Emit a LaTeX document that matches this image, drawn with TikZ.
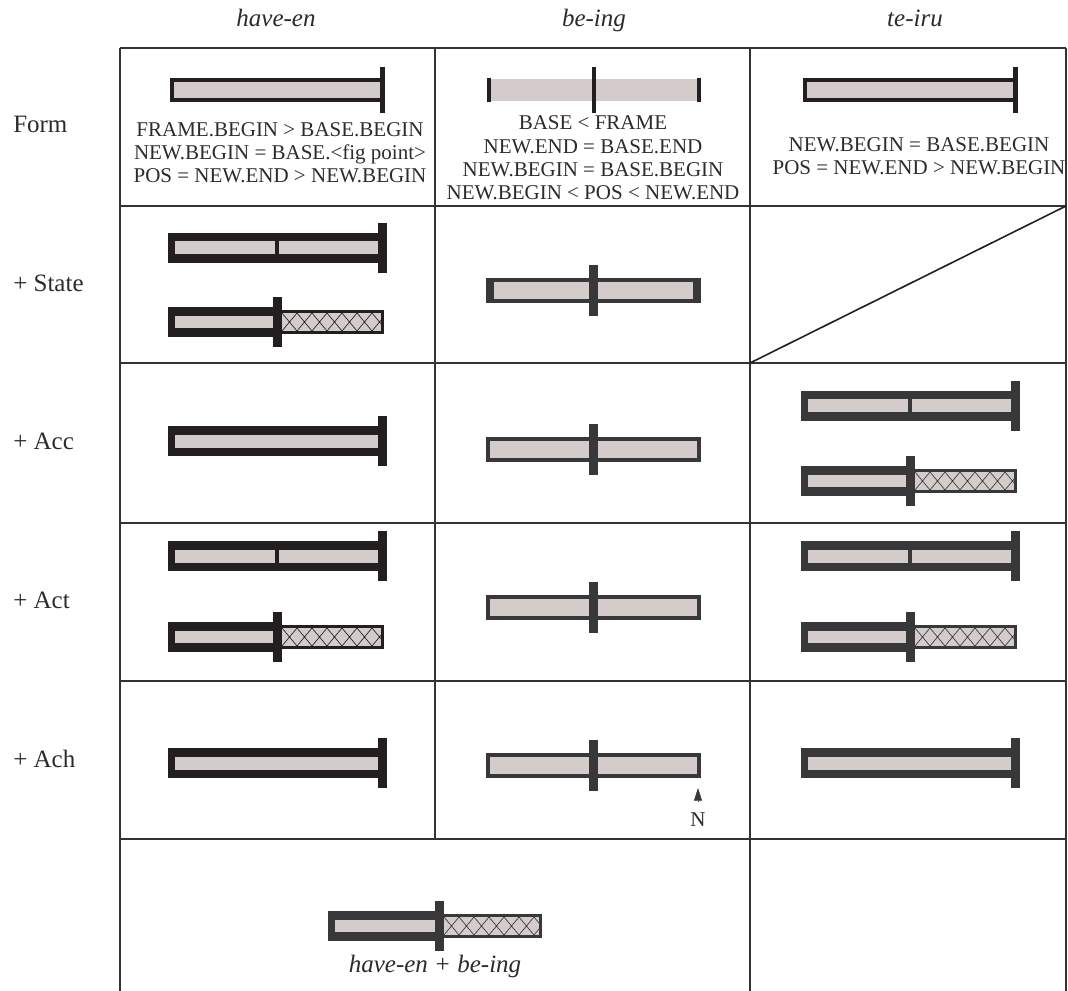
\documentclass[tikz,border=0pt]{standalone}
\usepackage{fontspec}
\setmainfont{Liberation Serif}
\usepackage{tikz}
\usetikzlibrary{positioning,arrows.meta}

\definecolor{barfill}{HTML}{D3CCCA}
\definecolor{inkA}{HTML}{231F20}
\definecolor{inkB}{HTML}{38383A}
\definecolor{rule}{HTML}{333333}
\definecolor{txt}{HTML}{2B2B2B}

% solid bar with end tick on the right: ink, x left, x tick, y
\newcommand{\fullbar}[4]{%
  \fill[#1] (#2,#4-15) rectangle (#3,#4+15);
  \fill[barfill] (#2+7,#4-6.5) rectangle (#3,#4+6.5);
  \fill[#1] (#3,#4-25) rectangle (#3+9,#4+25);}
% divider inside a solid bar: ink, x, y
\newcommand{\splitmark}[3]{%
  \fill[#1] (#2-2,#3-7) rectangle (#2+2,#3+7);}
% solid part, tick, hatched part: ink, x left, x tick, x right, y
\newcommand{\partbar}[5]{%
  \fill[#1] (#2,#5-15) rectangle (#3,#5+15);
  \fill[barfill] (#2+7,#5-6) rectangle (#3,#5+6);
  \fill[#1] (#3+9,#5-12) rectangle (#4,#5+12);
  \fill[barfill] (#3+9,#5-9) rectangle (#4-3,#5+9);
  \begin{scope}
    \clip (#3+9,#5-9) rectangle (#4-3,#5+9);
    \foreach \h in {0,15,...,120}
      \draw[#1, line width=0.5pt] (#3+9+\h-15,#5-9) -- (#3+9+\h,#5+9)
        (#3+9+\h-15,#5+9) -- (#3+9+\h,#5-9);
  \end{scope}
  \fill[#1] (#3,#5-25) rectangle (#3+9,#5+25);}
% be-ing bar with middle tick: end width, y
\newcommand{\progbar}[2]{%
  \fill[inkB] (486,#2-12.5) rectangle (701,#2+12.5);
  \fill[barfill] (486+#1,#2-8.5) rectangle (701-#1,#2+8.5);
  \fill[inkB] (589,#2-25.5) rectangle (598,#2+25.5);}

\begin{document}
\begin{tikzpicture}[x=0.75pt,y=-0.75pt,
  head/.style={font=\fontsize{18.75}{22}\selectfont\itshape, text=txt, inner sep=0pt, anchor=base},
  rowlabel/.style={font=\fontsize{18.75}{22}\selectfont, text=txt, inner sep=0pt, anchor=base west},
  cond/.style={font=\fontsize{15.75}{17.5}\selectfont, text=txt, align=center, inner sep=0pt, anchor=base},
  grid/.style={draw=rule, line width=1.5pt}]

  \useasboundingbox (0,0) rectangle (1068,991);

  % table
  \draw[grid] (120,48) -- (1066,48);
  \foreach \y in {206,363,523,681,839}
    \draw[grid] (120,\y) -- (1066,\y);
  \draw[grid] (120,48) -- (120,991);
  \draw[grid] (435,48) -- (435,839);
  \draw[grid] (750,48) -- (750,991);
  \draw[grid] (1066,48) -- (1066,991);
  \draw[inkA, line width=1.2pt] (750,363) -- (1066,206);

  % headers and row labels
  \node[head] (hhave) at (276,27) {have-en};
  \node[head] (hbe) at (594,27) {be-ing};
  \node[head] (hte) at (915,27) {te-iru};
  \node[rowlabel] (lform) at (13,133) {Form};
  \node[rowlabel] (lstate) at (13,292) {+ State};
  \node[rowlabel] (lacc) at (13,450) {+ Acc};
  \node[rowlabel] (lact) at (13,608) {+ Act};
  \node[rowlabel] (lach) at (13,767) {+ Ach};

  % form row
  \fill[inkA] (170,78) rectangle (382,102);
  \fill[barfill] (174,82) rectangle (380,98);
  \fill[inkA] (380,67) rectangle (385,113);
  \fill[barfill] (488,79) rectangle (700,101);
  \fill[inkA] (487,78) rectangle (491,102);
  \fill[inkA] (592,67) rectangle (596,113);
  \fill[inkA] (697,78) rectangle (701,102);
  \fill[inkA] (803,78) rectangle (1015,102);
  \fill[barfill] (807,82) rectangle (1013,98);
  \fill[inkA] (1013,67) rectangle (1018,113);
  % (base anchor sits on the last line)
  \node[cond] (fhave) at (280,183) {FRAME.BEGIN > BASE.BEGIN\\NEW.BEGIN = BASE.<fig point>\\POS = NEW.END > NEW.BEGIN};
  \node[cond] (fbe) at (593,200) {BASE < FRAME\\NEW.END = BASE.END\\NEW.BEGIN = BASE.BEGIN\\NEW.BEGIN < POS < NEW.END};
  \node[cond] (fte) at (919,175) {NEW.BEGIN = BASE.BEGIN\\POS = NEW.END > NEW.BEGIN};

  % + State
  \fullbar{inkA}{168}{378}{248}
  \splitmark{inkA}{277}{248}
  \partbar{inkA}{168}{273}{384}{322}
  \progbar{8}{290.5}

  % + Acc
  \fullbar{inkA}{168}{378}{441}
  \progbar{4}{449}
  \fullbar{inkB}{801}{1011}{406}
  \splitmark{inkB}{910}{406}
  \partbar{inkB}{801}{906}{1017}{481}

  % + Act
  \fullbar{inkA}{168}{378}{556}
  \splitmark{inkA}{277}{556}
  \partbar{inkA}{168}{273}{384}{637}
  \progbar{4}{607}
  \fullbar{inkB}{801}{1011}{556}
  \splitmark{inkB}{910}{556}
  \partbar{inkB}{801}{906}{1017}{637}

  % + Ach
  \fullbar{inkA}{168}{378}{763}
  \progbar{4}{765}
  \fullbar{inkB}{801}{1011}{763}
  \node[cond, anchor=center] (nmark) at (698,820) {N};
  \coordinate (ntip) at (698,788);
  \draw[inkB, line width=0.5pt, -{Triangle[length=9.5pt,width=6pt]}, shorten <=9pt] (nmark) -- (ntip);

  % combined
  \partbar{inkB}{328}{435}{542}{926}
  \node[head] (combo) at (435,972) {have-en + be-ing};
\end{tikzpicture}
\end{document}
